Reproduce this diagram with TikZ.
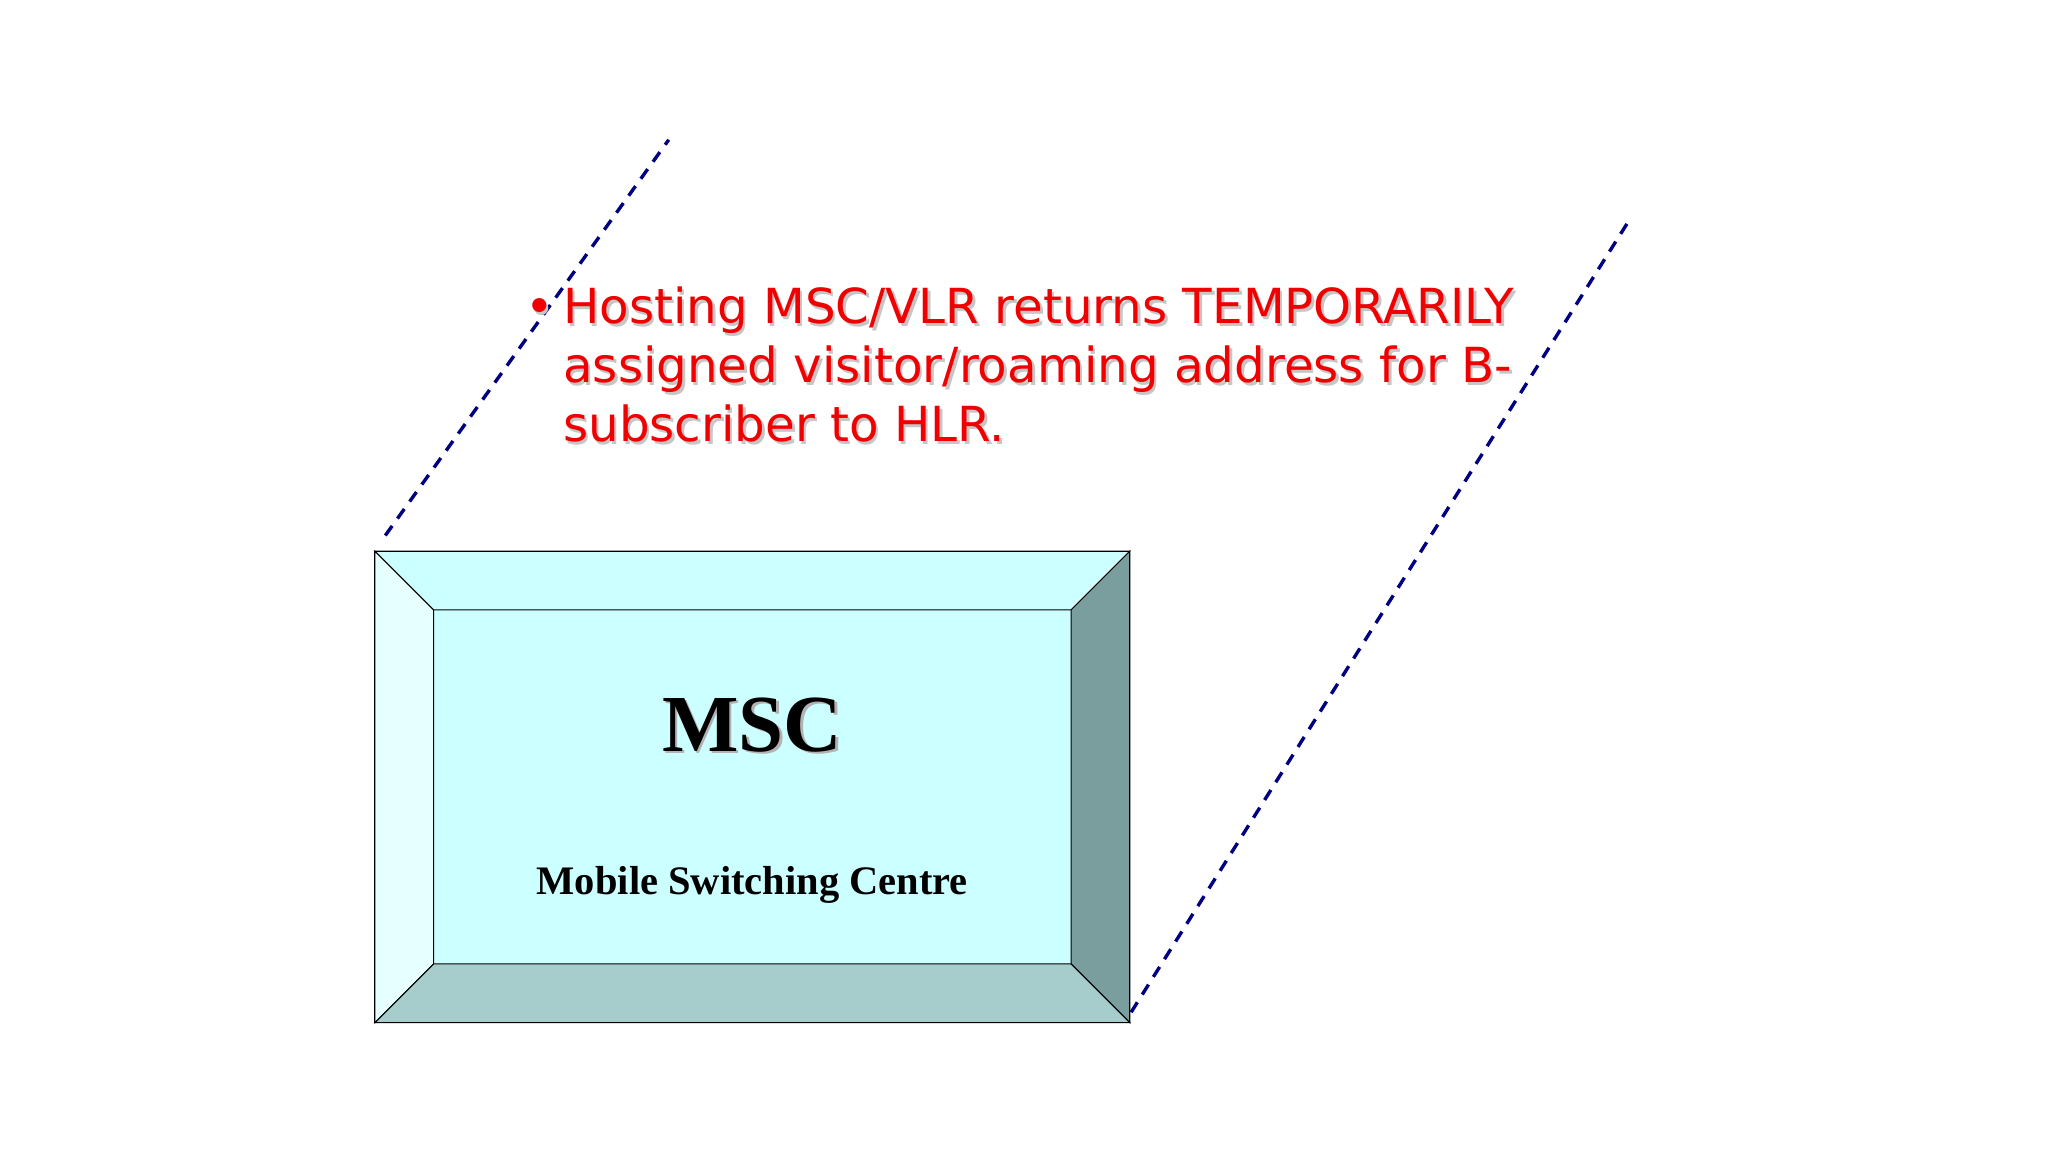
\documentclass[tikz,border=0pt]{standalone}
\usepackage{fontspec}
\setmainfont{Liberation Serif}
\newfontfamily\tah{DejaVu Sans}
\begin{document}
\begin{tikzpicture}[x=1pt,y=-1pt,
  edge/.style={draw=black,line width=0.8pt},
  dline/.style={draw={rgb,255:red,0;green,0;blue,128},line width=2.6pt,dash pattern=on 9pt off 7pt},
  rtxt/.style={anchor=base west,inner sep=0pt,font=\tah\fontsize{37}{44}\selectfont,text={rgb,255:red,240;green,0;blue,0}}]
\useasboundingbox (0,0) rectangle (1568,882);
\coordinate (a1) at (295,410); \coordinate (a2) at (512,107);
\coordinate (b1) at (866,775); \coordinate (b2) at (1249,166);
\draw[dline] (a1) -- (a2);
\draw[dline] (b1) -- (b2);
% bevel box
\fill[fill={rgb,255:red,204;green,255;blue,255}] (332,467) rectangle (820,738);
\filldraw[edge,fill={rgb,255:red,204;green,255;blue,255}] (287,422) -- (865,422) -- (820,467) -- (332,467) -- cycle;
\filldraw[edge,fill={rgb,255:red,230;green,255;blue,255}] (287,422) -- (332,467) -- (332,738) -- (287,783) -- cycle;
\filldraw[edge,fill={rgb,255:red,122;green,158;blue,158}] (865,422) -- (865,783) -- (820,738) -- (820,467) -- cycle;
\filldraw[edge,fill={rgb,255:red,166;green,204;blue,204}] (287,783) -- (332,738) -- (820,738) -- (865,783) -- cycle;
\draw[edge] (287,422) rectangle (865,783);
\node[font=\bfseries\fontsize{62}{70}\selectfont,text=gray!60,anchor=base] at (578,577) {MSC};
\node (msc) [font=\bfseries\fontsize{62}{70}\selectfont,anchor=base] at (576,575) {MSC};
\node (mob) [font=\bfseries\fontsize{31}{36}\selectfont,anchor=base] at (576,685) {Mobile Switching Centre};
% text with shadow
\foreach \dx/\dy/\c in {2/2/gray!40, 0/0/} {
 \begin{scope}[shift={(\dx,\dy)}]
 \ifx\c\empty\else\fi
 \end{scope}}
\begin{scope}[rtxt/.append style={text=gray!45}]
\node[rtxt] at (404,250) {•};
\node[rtxt] at (433,250) {Hosting MSC/VLR returns TEMPORARILY};
\node[rtxt] at (433,295) {assigned visitor/roaming address for B-};
\node[rtxt] at (433,340) {subscriber to HLR.};
\end{scope}
\node (bul) [rtxt] at (402,248) {•};
\node (l1) [rtxt] at (431,248) {Hosting MSC/VLR returns TEMPORARILY};
\node (l2) [rtxt] at (431,293) {assigned visitor/roaming address for B-};
\node (l3) [rtxt] at (431,338) {subscriber to HLR.};
\end{tikzpicture}
\end{document}
